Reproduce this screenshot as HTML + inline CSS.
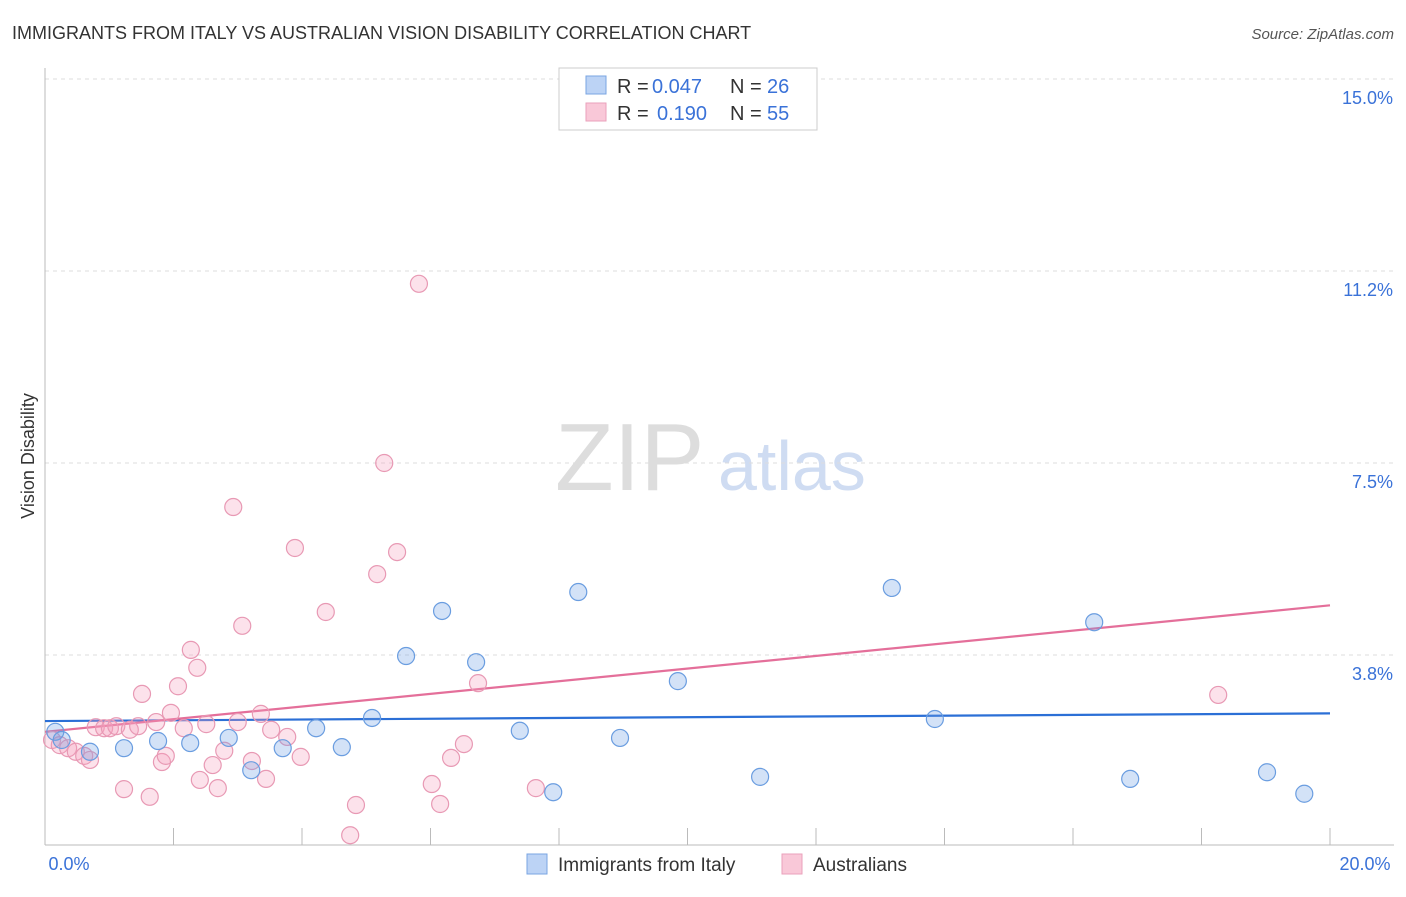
<!DOCTYPE html>
<html><head><meta charset="utf-8"><style>
body{margin:0;background:#fff;font-family:"Liberation Sans",sans-serif;}
svg text{font-family:"Liberation Sans",sans-serif;}
</style></head><body>
<svg id="chart" width="1406" height="892">
<text x="12" y="39" font-size="18" fill="#333">IMMIGRANTS FROM ITALY VS AUSTRALIAN VISION DISABILITY CORRELATION CHART</text>
<text x="1394" y="39" font-size="15" fill="#555" font-style="italic" text-anchor="end">Source: ZipAtlas.com</text>
<text x="34" y="456" font-size="18" fill="#333" text-anchor="middle" transform="rotate(-90 34 456)">Vision Disability</text>
<g>
<text x="555" y="490" font-size="96" font-family="Liberation Serif,serif" fill="#ddd">ZIP</text>
<text x="718" y="490" font-size="70" fill="#cfdcf2">atlas</text>
</g>
<g id="grid"></g><g id="axes"></g><g id="lines"></g><g id="points"></g>
<g>
<rect x="559" y="68" width="258" height="62" fill="#fff" stroke="#ccc"/>
<rect x="586" y="76" width="20" height="18" fill="#bcd3f5" stroke="#7aa5e2"/>
<rect x="586" y="103" width="20" height="18" fill="#f9c8d8" stroke="#eaa1bb"/>
<text x="617" y="93" font-size="20" fill="#333">R =</text>
<text x="652" y="93" font-size="20" fill="#3a72d8">0.047</text>
<text x="730" y="93" font-size="20" fill="#333">N =</text>
<text x="767" y="93" font-size="20" fill="#3a72d8">26</text>
<text x="617" y="120" font-size="20" fill="#333">R =</text>
<text x="657" y="120" font-size="20" fill="#3a72d8">0.190</text>
<text x="730" y="120" font-size="20" fill="#333">N =</text>
<text x="767" y="120" font-size="20" fill="#3a72d8">55</text>
</g>
<g>
<rect x="527" y="854" width="20" height="20" fill="#bcd3f5" stroke="#7aa5e2"/>
<text x="558" y="871" font-size="19" fill="#333">Immigrants from Italy</text>
<rect x="782" y="854" width="20" height="20" fill="#f9c8d8" stroke="#eaa1bb"/>
<text x="813" y="871" font-size="19" fill="#333">Australians</text>
</g>
</svg>
<script>
const yTicks=[3.8,7.5,11.2,15.0];
const yTickVals=[3.75,7.5,11.25,15];
const xLabels=["0.0%","20.0%"];
const blueX=[0.16,0.26,0.70,1.23,1.76,2.26,2.86,3.21,3.70,4.22,4.62,5.09,5.62,6.18,6.71,7.39,7.91,8.30,8.95,9.85,11.13,13.18,13.85,16.33,16.89,19.02,19.60];
const blueY=[2.25,2.09,1.86,1.93,2.07,2.03,2.13,1.50,1.93,2.32,1.95,2.52,3.73,4.61,3.61,2.27,1.07,4.98,2.13,3.24,1.37,5.06,2.50,4.39,1.33,1.46,1.04];
const pinkX=[0.11,0.23,0.36,0.48,0.61,0.70,0.79,0.92,1.01,1.11,1.23,1.32,1.45,1.51,1.63,1.73,1.82,1.88,1.96,2.07,2.16,2.27,2.37,2.41,2.51,2.61,2.69,2.79,2.93,3.00,3.07,3.22,3.36,3.44,3.52,3.77,3.89,3.98,4.37,4.75,4.84,5.17,5.28,5.48,6.02,6.15,6.32,6.52,6.74,7.64,5.82,18.26];
const pinkY=[2.09,1.99,1.93,1.86,1.78,1.70,2.34,2.32,2.32,2.36,1.13,2.29,2.36,2.99,0.98,2.44,1.66,1.78,2.62,3.14,2.32,3.85,3.50,1.31,2.40,1.60,1.15,1.88,6.64,2.44,4.32,1.68,2.60,1.33,2.29,2.15,5.84,1.76,4.59,0.23,0.82,5.33,7.50,5.76,1.23,0.84,1.74,2.01,3.20,1.15,11.0,2.97];
const blueTrend=[2.46,2.61];
const pinkTrend=[2.25,4.72];
const X=v=>45+v*64.25, Y=v=>847-v*51.2;
const NS="http://www.w3.org/2000/svg";
function mk(t,a,p){const e=document.createElementNS(NS,t);for(const k in a)e.setAttribute(k,a[k]);document.getElementById(p).appendChild(e);return e;}
yTickVals.forEach((v,i)=>{
 const l=mk('line',{x1:45,x2:1394,y1:Y(v),y2:Y(v),stroke:'#ddd','stroke-dasharray':'4,4'},'grid');
 
 
 const t=mk('text',{x:1393,y:Y(v)+25,'font-size':18,fill:'#3a72d8','text-anchor':'end'},'grid');
 t.textContent=yTicks[i].toFixed(1)+'%';
 
 
});
let a=mk('line',{x1:45,x2:45,y1:68,y2:845,stroke:'#bbb'},'axes');


a=mk('line',{x1:45,x2:1394,y1:845,y2:845,stroke:'#bbb'},'axes');


for(let i=0;i<=20;i+=2){const t=mk('line',{x1:X(i),x2:X(i),y1:828,y2:845,stroke:'#bbb'},'axes');
 
 }
[[0,69,'middle'],[20,1365,'middle']].forEach((d,i)=>{const t=mk('text',{x:d[1],y:870,'font-size':18,fill:'#3a72d8','text-anchor':d[2]},'axes');t.textContent=xLabels[i];
 
 });
function pts(xs,ys,fill,stroke,name){xs.forEach((x,i)=>{const c=mk('circle',{cx:X(x),cy:Y(ys[i]),r:8.5,fill:fill,stroke:stroke,'stroke-width':1.2},'points');
 
 });}
pts(pinkX,pinkY,'rgba(244,160,190,0.3)','#e899b4','australians-point');
pts(blueX,blueY,'rgba(110,160,230,0.3)','#6a9de0','italy-point');
let l=mk('line',{x1:X(0),x2:X(20),y1:Y(blueTrend[0]),y2:Y(blueTrend[1]),stroke:'#2b6fd6','stroke-width':2.2},'lines');


l=mk('line',{x1:X(0),x2:X(20),y1:Y(pinkTrend[0]),y2:Y(pinkTrend[1]),stroke:'#e46f9a','stroke-width':2.2},'lines');


</script>
</body></html>
